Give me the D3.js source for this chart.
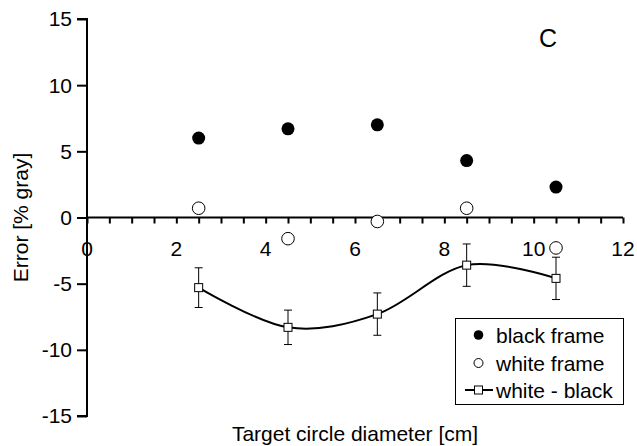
<!DOCTYPE html>
<html>
<head>
<meta charset="utf-8">
<script src="https://cdn.jsdelivr.net/npm/d3@7"></script>
<style>
  html, body { margin: 0; padding: 0; background: #fff; }
  svg { display: block; font-family: "Liberation Sans", Arial, sans-serif; }
</style>
</head>
<body>
<svg id="chart" width="637" height="446"></svg>
<script>
// Target circle diameters [cm]
const diameters = [2.5, 4.5, 6.5, 8.5, 10.5];
// Error [% gray] with a black surrounding frame
const blackFrame = [6.0, 6.7, 7.0, 4.3, 2.3];
// Error [% gray] with a white surrounding frame
const whiteFrame = [0.7, -1.6, -0.3, 0.7, -2.3];
// Difference white - black and its error bar half-length
const whiteMinusBlack = [-5.3, -8.3, -7.3, -3.6, -4.6];
const diffError = [1.5, 1.3, 1.6, 1.6, 1.6];

const xTickLabels = [0, 2, 4, 6, 8, 10, 12];
const xMinorTicks = d3.range(0, 12.01, 0.5);
const yTickLabels = [-15, -10, -5, 0, 5, 10, 15];
const legendLabels = ["black frame", "white frame", "white - black"];

const svg = d3.select("#chart");
const FONT = 21;

const x = d3.scaleLinear().domain([0, 12]).range([87, 623]);
const y = d3.scaleLinear().domain([-15, 15]).range([416, 19]);

// Y axis (left, outward ticks); labels use a plain hyphen for negatives
const yAxis = d3.axisLeft(y).tickValues(yTickLabels).tickSize(10).tickPadding(5)
  .tickFormat(d => String(d));
const gy = svg.append("g").attr("transform", `translate(${x(0)},0)`).call(yAxis);
gy.select(".domain").attr("stroke", "#000").attr("stroke-width", 2).attr("d", `M-10,${y(15)}H0V${y(-15)}H-10`);
gy.selectAll(".tick line").attr("stroke", "#000").attr("stroke-width", 2);
gy.selectAll(".tick text").attr("font-size", FONT).attr("fill", "#000")
  .attr("font-family", "Liberation Sans, Arial, sans-serif").attr("dy", "0.33em");

// X axis crossing at y = 0, ticks every 0.5 pointing down
const xAxis = d3.axisBottom(x).tickValues(xMinorTicks).tickSize(6).tickFormat("");
const gx = svg.append("g").attr("transform", `translate(0,${y(0)})`).call(xAxis);
gx.select(".domain").attr("stroke", "#000").attr("stroke-width", 2).attr("d", `M${x(0)},0H${x(12)}`);
gx.selectAll(".tick line").attr("stroke", "#000").attr("stroke-width", 2);

// X tick labels sit below the axis line
svg.append("g").selectAll("text").data(xTickLabels).join("text")
  .attr("x", d => x(d)).attr("y", y(0) + 38)
  .attr("text-anchor", "middle").attr("font-size", FONT).attr("fill", "#000")
  .text(d => d);

// Axis titles
svg.append("text").attr("x", (x(0) + x(12)) / 2).attr("y", 441)
  .attr("text-anchor", "middle").attr("font-size", FONT).text("Target circle diameter [cm]");
svg.append("text").attr("transform", `translate(28,${(y(15) + y(-15)) / 2}) rotate(-90)`)
  .attr("text-anchor", "middle").attr("font-size", FONT).text("Error [% gray]");

// Panel letter
svg.append("text").attr("x", 539).attr("y", 47).attr("font-size", 25).text("C");

// Smoothed difference curve
const diffPts = diameters.map((d, i) => [d, whiteMinusBlack[i], diffError[i]]);
const line = d3.line().x(d => x(d[0])).y(d => y(d[1])).curve(d3.curveCardinal.tension(0));
svg.append("path").datum(diffPts).attr("d", line)
  .attr("fill", "none").attr("stroke", "#000").attr("stroke-width", 2);

// Error bars
const eb = svg.append("g").attr("stroke", "#000").attr("stroke-width", 1);
diffPts.forEach(d => {
  const cx = x(d[0]), top = y(d[1] + d[2]), bot = y(d[1] - d[2]);
  eb.append("line").attr("x1", cx).attr("x2", cx).attr("y1", top).attr("y2", bot);
  eb.append("line").attr("x1", cx - 4).attr("x2", cx + 4).attr("y1", top).attr("y2", top);
  eb.append("line").attr("x1", cx - 4).attr("x2", cx + 4).attr("y1", bot).attr("y2", bot);
});

// Square markers on the difference curve
svg.append("g").selectAll("rect").data(diffPts).join("rect")
  .attr("x", d => x(d[0]) - 4).attr("y", d => y(d[1]) - 4)
  .attr("width", 8).attr("height", 8)
  .attr("fill", "#fff").attr("stroke", "#000").attr("stroke-width", 1);

// Black frame: filled dots
svg.append("g").selectAll("circle").data(diameters).join("circle")
  .attr("cx", d => x(d)).attr("cy", (d, i) => y(blackFrame[i])).attr("r", 6.5)
  .attr("fill", "#000");

// White frame: open circles
svg.append("g").selectAll("circle").data(diameters).join("circle")
  .attr("cx", d => x(d)).attr("cy", (d, i) => y(whiteFrame[i])).attr("r", 6.3)
  .attr("fill", "#fff").attr("stroke", "#000").attr("stroke-width", 1);

// Legend
const lg = svg.append("g");
lg.append("rect").attr("x", 455.5).attr("y", 318.5).attr("width", 168).attr("height", 86)
  .attr("fill", "#fff").attr("stroke", "#000").attr("stroke-width", 1);
const rowY = [335, 363, 390];
lg.append("circle").attr("cx", 478.5).attr("cy", rowY[0]).attr("r", 4.8).attr("fill", "#000");
lg.append("circle").attr("cx", 478.5).attr("cy", rowY[1]).attr("r", 4.5)
  .attr("fill", "#fff").attr("stroke", "#000").attr("stroke-width", 1);
lg.append("line").attr("x1", 465).attr("x2", 493).attr("y1", rowY[2]).attr("y2", rowY[2])
  .attr("stroke", "#000").attr("stroke-width", 2);
lg.append("rect").attr("x", 474.5).attr("y", rowY[2] - 4).attr("width", 8).attr("height", 8)
  .attr("fill", "#fff").attr("stroke", "#000").attr("stroke-width", 1);
lg.selectAll("text.lbl").data(legendLabels).join("text").attr("class", "lbl")
  .attr("x", 496).attr("y", (d, i) => rowY[i] + 7.5)
  .attr("font-size", FONT).text(d => d);
</script>
</body>
</html>
